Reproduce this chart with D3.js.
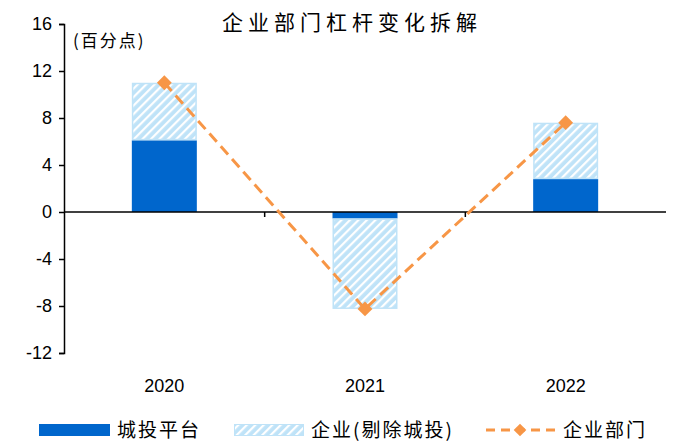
<!DOCTYPE html>
<html>
<head>
<meta charset="utf-8">
<script src="https://cdn.jsdelivr.net/npm/d3@7/dist/d3.min.js"></script>
<style>
  html, body { margin: 0; padding: 0; background: #fff; }
  svg { display: block; }
  .tick text { font-family: Arial, "Liberation Sans", sans-serif; }
</style>
</head>
<body>
<svg id="chart" width="678" height="441"></svg>
<script>
// Corporate sector leverage change, decomposed (percentage points)
const years = ["2020", "2021", "2022"];
const lgfv = [6.1, -0.55, 2.8];          // 城投平台
const corpExLgfv = [4.9, -7.7, 4.8];     // 企业(剔除城投)
const corpTotal = [11.0, -8.25, 7.6];    // 企业部门
const yTicks = [-12, -8, -4, 0, 4, 8, 12, 16];

const svg = d3.select("#chart");
const W = 678, H = 441;
const margin = { left: 64, right: 12, top: 24, bottom: 88 };
const cjk = '"Noto Sans CJK SC", "Noto Sans", sans-serif';

const x = d3.scaleBand().domain(years).range([margin.left, W - margin.right]).paddingInner(0).paddingOuter(0);
const y = d3.scaleLinear().domain([-12, 16]).range([H - margin.bottom, margin.top]);

const blue = "#0066CC", light = "#BFE3F8", orange = "#F79646";

// hatch fill for the ex-LGFV segment
const defs = svg.append("defs");
const pat = defs.append("pattern")
  .attr("id", "hatch").attr("patternUnits", "userSpaceOnUse")
  .attr("width", 6).attr("height", 6)
  .attr("patternTransform", "rotate(45)");
pat.append("rect").attr("width", 6).attr("height", 6).attr("fill", light);
pat.append("rect").attr("x", 0).attr("width", 2.2).attr("height", 6).attr("fill", "#fff");

const barW = 65;
const cx = d => x(d) + x.bandwidth() / 2;

// stacked bars: LGFV from zero, ex-LGFV stacked on top of it
svg.append("g").selectAll("rect").data(years).join("rect")
  .attr("x", d => cx(d) - barW / 2)
  .attr("width", barW)
  .attr("y", (d, i) => y(Math.max(0, lgfv[i])))
  .attr("height", (d, i) => Math.abs(y(lgfv[i]) - y(0)))
  .attr("fill", blue);

svg.append("g").selectAll("rect").data(years).join("rect")
  .attr("x", d => cx(d) - barW / 2 + 0.75)
  .attr("width", barW - 1.5)
  .attr("y", (d, i) => Math.min(y(lgfv[i]), y(lgfv[i] + corpExLgfv[i])) + 0.75)
  .attr("height", (d, i) => Math.abs(y(lgfv[i] + corpExLgfv[i]) - y(lgfv[i])) - 1.5)
  .attr("fill", "url(#hatch)")
  .attr("stroke", light).attr("stroke-width", 1.5);

// y axis
const yAxis = svg.append("g").attr("transform", `translate(${margin.left},0)`)
  .call(d3.axisLeft(y).tickValues(yTicks).tickFormat(d => String(d)).tickSize(5).tickPadding(7));
yAxis.select(".domain").attr("stroke", "#000").attr("stroke-width", 1.5);
yAxis.selectAll(".tick line").attr("stroke", "#000").attr("stroke-width", 1.5);
yAxis.selectAll(".tick text").attr("font-size", 18).attr("fill", "#000");

// zero line with category separators
const zero = svg.append("g").attr("transform", `translate(0,${y(0)})`);
zero.append("line").attr("x1", margin.left).attr("x2", W - margin.right)
  .attr("stroke", "#000").attr("stroke-width", 1.5);
zero.selectAll(".sep").data(years.slice(1)).join("line")
  .attr("x1", d => x(d)).attr("x2", d => x(d)).attr("y1", 0).attr("y2", 5)
  .attr("stroke", "#000").attr("stroke-width", 1.5);

// category labels
svg.append("g").selectAll("text").data(years).join("text")
  .attr("x", cx).attr("y", H - margin.bottom + 39)
  .attr("text-anchor", "middle").attr("font-size", 18)
  .attr("font-family", "Arial, 'Liberation Sans', sans-serif")
  .text(d => d);

// total line with diamond markers
const line = d3.line().x((d, i) => cx(years[i])).y(d => y(d));
svg.append("path").datum(corpTotal).attr("d", line)
  .attr("fill", "none").attr("stroke", orange).attr("stroke-width", 3)
  .attr("stroke-dasharray", "11,6");
const diamond = d3.symbol().type(d3.symbolSquare).size(110);
svg.append("g").selectAll("path").data(corpTotal).join("path")
  .attr("d", diamond)
  .attr("transform", (d, i) => `translate(${cx(years[i])},${y(d)}) rotate(45)`)
  .attr("fill", orange);

// title and unit
svg.append("text").attr("x", 222).attr("y", 30)
  .attr("font-size", 21).attr("letter-spacing", 5).attr("font-family", cjk).text("企业部门杠杆变化拆解");
svg.append("text").attr("x", 73).attr("y", 47).attr("letter-spacing", 2)
  .attr("font-size", 17).attr("font-family", cjk).text("(百分点)");

// legend
const ly = 430;
const lg = svg.append("g").attr("font-family", cjk).attr("font-size", 19).attr("letter-spacing", 2);
lg.append("rect").attr("x", 39).attr("y", ly - 6).attr("width", 71).attr("height", 12).attr("fill", blue);
lg.append("text").attr("x", 117).attr("y", ly + 6.5).text("城投平台");
lg.append("rect").attr("x", 234.5).attr("y", ly - 5.5).attr("width", 69).attr("height", 11)
  .attr("fill", "url(#hatch)").attr("stroke", light).attr("stroke-width", 1);
lg.append("text").attr("x", 311).attr("y", ly + 6.5).text("企业(剔除城投)");
lg.append("line").attr("x1", 486).attr("x2", 556).attr("y1", ly).attr("y2", ly)
  .attr("stroke", orange).attr("stroke-width", 3).attr("stroke-dasharray", "9,6");
lg.append("path").attr("d", d3.symbol().type(d3.symbolSquare).size(80))
  .attr("transform", `translate(520,${ly}) rotate(45)`).attr("fill", orange);
lg.append("text").attr("x", 563).attr("y", ly + 6.5).text("企业部门");
</script>
</body>
</html>
